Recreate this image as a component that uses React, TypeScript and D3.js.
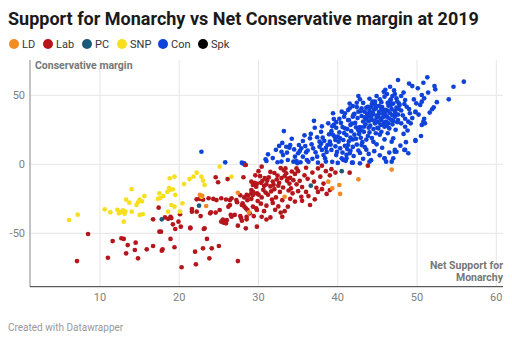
import React from "react";
import * as d3 from "d3";

const partyNames = ["LD", "Lab", "PC", "SNP", "Con", "Spk"];
const partyColors = ["#f28c22", "#b4161b", "#1d5a78", "#f7df1e", "#0f42d8", "#000000"];

const xTicks = [10, 20, 30, 40, 50, 60];
const yTicks = [50, 0, -50];

const ldPoints: [number, number][] = [
  [22.6, -22.2], [22.9, -22.8], [23.4, -30.2], [27.4, -20.6], [28.8, -34.8], [33.3, -23.5],
  [38.8, -12.6], [39.3, -17.4], [40.2, -15.0], [40.3, -21.5], [42.6, -10.9], [46.8, -3.8],
];

const pcPoints: [number, number][] = [
  [17.8, -39.9], [22.5, -30.0], [36.6, -15.5], [40.5, -5.0],
];

const spkPoints: [number, number][] = [];

const snpPoints: [number, number][] = [
  [6.1, -40.4], [7.2, -36.5], [14.0, -18.0], [13.3, -25.6], [13.7, -27.8], [10.6, -32.6],
  [11.3, -34.8], [12.2, -33.0], [12.4, -35.5], [12.6, -34.6], [12.9, -33.4], [13.1, -35.8],
  [13.2, -34.2], [13.0, -41.6], [14.0, -34.3], [14.6, -29.5], [14.8, -27.5], [15.0, -25.6],
  [15.3, -26.8], [15.6, -23.0], [15.0, -36.7], [15.4, -36.2], [17.3, -25.0], [17.6, -24.5],
  [17.5, -21.0], [18.0, -23.0], [18.5, -20.0], [18.7, -17.2], [18.8, -18.5], [19.2, -18.1],
  [19.5, -22.2], [18.8, -10.1], [19.4, -9.0], [19.0, -29.5], [19.4, -30.7], [18.6, -34.3],
  [20.4, -28.3], [20.6, -14.3], [21.3, -10.7], [21.8, -9.0], [22.2, -6.1], [22.8, -9.0],
  [23.0, -11.9], [23.2, -15.0], [25.1, -1.7], [26.6, -9.0], [20.1, -34.3], [22.8, -23.5],
];

const labPoints: [number, number][] = [
  [7.1, -70.1], [8.5, -50.5], [11.0, -67.7], [11.6, -55.6], [12.7, -53.6], [13.0, -54.1],
  [13.5, -58.5], [13.3, -64.5], [14.4, -62.1], [14.5, -56.8], [14.8, -68.1], [15.9, -61.6],
  [16.7, -59.2], [16.7, -39.9], [17.5, -48.8], [17.7, -48.8], [17.8, -62.6], [17.9, -61.6],
  [17.4, -31.4], [18.2, -38.5], [18.6, -39.5], [18.9, -38.0], [19.0, -39.0], [18.9, -54.1],
  [19.2, -43.5], [19.5, -46.9], [19.4, -60.1], [19.9, -41.6], [20.1, -36.2], [20.2, -45.2],
  [20.3, -74.6], [21.4, -46.4], [21.6, -34.3], [22.0, -63.3], [22.1, -72.5], [22.2, -25.4],
  [22.6, -25.0], [23.0, -25.6], [22.2, -34.3], [22.7, -37.5], [23.1, -46.9], [23.0, -60.9],
  [23.5, -54.1], [23.8, -68.1], [23.9, -35.5], [24.1, -60.9], [23.7, -24.6], [24.3, -25.1],
  [24.6, -9.4], [24.9, -13.0], [24.7, -25.9], [25.0, -59.2], [25.1, -33.1], [25.5, -40.0],
  [25.8, -41.5], [26.0, -40.5], [25.6, -42.3], [26.1, -10.7], [26.4, -29.5], [26.5, -36.7],
  [26.6, -24.6], [27.2, -25.9], [27.3, -27.5], [27.4, -70.1], [27.4, -44.5], [27.7, -37.5],
  [27.9, -40.9], [27.8, -39.0], [28.1, -9.4], [28.0, -28.3], [28.2, -30.5], [28.4, -31.9],
  [28.4, -46.4], [28.5, -22.2], [28.7, -22.8], [28.5, -38.0], [28.5, -39.9], [29.1, -12.6],
  [29.3, -15.0], [29.5, -13.5], [29.7, -16.2], [29.8, -14.0], [29.1, -21.0], [29.3, -19.9],
  [29.3, -30.7], [29.7, -31.9], [29.8, -45.2], [29.9, -26.6], [29.8, -33.1],
  [21.6, -32.4], [21.4, -45.9], [23.2, -46.4], [24.0, -34.8], [24.6, -35.0], [25.3, -24.6],
  [25.9, -25.5], [26.4, -25.9], [26.2, -30.7], [25.3, -41.6], [25.9, -42.8], [26.6, -38.0],
  [27.0, -36.7], [27.7, -22.5], [28.2, -24.0], [28.6, -26.0], [29.1, -25.0], [27.9, -29.5],
  [28.6, -33.0], [28.9, -35.5], [30.4, -1.7], [28.4, -0.5],
  [30.2, -8.6], [30.5, -12.0], [30.8, -10.0], [31.0, -14.5], [31.3, -9.5], [31.5, -16.0],
  [31.8, -12.5], [32.0, -18.0], [32.3, -11.0], [32.5, -15.5], [32.7, -20.0], [30.6, -18.5],
  [30.9, -20.5], [31.2, -22.0], [30.4, -24.0], [31.7, -25.5], [32.2, -24.0], [33.0, -26.0],
  [32.8, -2.7], [33.2, -4.5], [33.5, -6.5], [33.4, -3.0], [32.9, -10.0], [33.6, -12.0],
  [33.9, -14.0], [34.1, -17.5], [33.8, -19.0], [34.3, -21.0], [33.3, -8.5], [34.0, -9.8],
  [34.4, -11.5], [34.6, -7.0], [35.0, -5.0], [35.2, -12.0], [35.5, -16.5], [35.0, -19.5],
  [35.8, -8.0], [36.2, -10.5], [36.0, -20.0], [36.8, -6.0], [37.0, -12.5], [37.3, -17.0],
  [37.8, -9.0], [38.2, -14.0], [38.5, -5.0], [39.0, -8.0], [39.2, -3.5], [39.7, -6.0],
  [41.5, -6.1], [43.8, -1.0], [36.5, -29.5], [37.1, -25.4], [38.6, -21.5], [39.0, -18.7],
  [35.4, -23.5], [34.6, -27.0], [33.7, -30.7], [32.1, -33.0], [32.8, -35.0], [33.3, -34.0],
  [30.4, -38.0], [31.0, -40.0], [31.5, -38.5], [30.0, -22.0], [30.3, -28.5], [31.0, -30.0],
  [31.8, -28.0], [32.5, -30.5], [34.0, -25.0], [35.5, -26.5], [36.3, -23.0], [37.5, -20.0],
  [38.0, -18.0], [34.8, -3.0], [36.0, -2.5], [37.5, -3.0], [38.0, -1.0], [30.0, -5.0],
  [31.5, -5.5], [29.6, -8.0], [30.7, -34.0], [33.0, -38.0], [29.4, -37.5], [29.3, -22.2],
  [29.8, -21.0], [29.1, -18.7],
  [31.1, -11.8], [31.9, -14.8], [32.4, -8.2], [32.6, -13.4], [33.1, -16.8], [31.6, -19.6],
  [30.7, -15.6], [33.7, -10.3], [34.8, -14.5], [34.2, -5.2], [32.0, -6.3], [30.3, -13.4],
];

const conPoints: [number, number][] = [
  [22.8, 9.1], [25.8, 1.4], [27.9, 1.2], [28.2, 0.7], [28.0, 0.7], [28.3, -0.5],
  [30.9, 3.6], [31.2, 7.2], [31.0, 2.4], [32.6, 13.3], [32.9, 9.1], [33.1, 6.7], [33.2, 24.1],
  [32.4, 1.5], [31.8, 4.5], [32.2, 10.5], [32.9, 2.0], [33.0, 15.5],
  [33.5, 12.7], [33.9, 12.0], [34.0, 14.0], [33.7, 3.1], [34.4, 1.9], [34.6, 5.5], [35.0, 8.0],
  [35.2, 9.6], [35.1, 14.0], [35.6, 16.9], [35.4, 11.6], [35.6, 5.5], [36.0, 8.7], [36.1, 3.1],
  [34.8, 2.4], [34.2, 18.5], [35.8, 21.0], [34.9, 0.8], [35.3, 1.5], [33.6, 8.5], [34.5, 10.8],
  [35.9, 13.2],
  [36.5, 18.8], [36.7, 14.5], [36.9, 11.6], [37.1, 26.5], [37.2, 8.7], [37.4, 5.5], [37.7, 12.8],
  [37.7, 16.4], [38.0, 10.4], [38.1, 19.3], [38.2, 6.7], [38.4, 4.3], [38.7, 14.0], [38.8, 29.7],
  [38.9, 21.7], [36.3, 1.8], [36.8, 4.0], [37.5, 1.2], [38.5, 2.0], [37.9, 23.5], [36.6, 22.0],
  [38.3, 17.0], [37.0, 31.5], [36.2, 10.0], [38.6, 9.0], [38.0, 27.5],
  [39.0, 16.4], [39.2, 10.4], [39.4, 37.0], [39.5, 32.8], [39.6, 20.0], [39.8, 26.5], [39.8, 6.7],
  [40.1, 16.4], [40.2, 23.2], [40.3, 11.6], [40.5, 4.3], [40.7, 17.6], [40.9, 26.1], [41.1, 21.2],
  [41.3, 14.0], [41.5, 8.0], [41.3, 39.3], [39.3, 1.8], [40.0, 1.0], [41.0, 2.5], [41.8, 1.2],
  [39.7, 13.0], [40.4, 30.0], [41.6, 28.5], [41.9, 18.0], [39.2, 24.0], [40.8, 34.5], [41.4, 32.0],
  [40.0, 20.0], [41.2, 11.0], [39.9, 9.0], [41.7, 24.0], [40.6, 8.5], [39.5, 28.5], [42.0, 36.0],
  [47.6, 61.1], [51.3, 63.0], [50.8, 59.1], [49.4, 56.7], [50.1, 55.1], [46.6, 56.2], [52.2, 56.7],
  [52.3, 54.3], [54.6, 56.2], [55.9, 59.9], [54.0, 47.1], [52.1, 41.3], [51.9, 39.9], [50.6, 50.2],
  [50.9, 47.8], [50.6, 45.4], [49.9, 44.2], [50.4, 43.0], [49.8, 38.1], [49.1, 37.0], [48.7, 41.7],
  [48.5, 46.6], [48.0, 49.5], [47.7, 44.2], [47.4, 47.8], [47.2, 50.9], [46.9, 49.5], [46.6, 46.1],
  [46.2, 50.9], [45.9, 49.0], [45.3, 47.1], [44.7, 45.4], [44.3, 43.7], [43.8, 41.7], [42.8, 47.1],
  [42.4, 44.6], [41.9, 42.2], [41.5, 40.6], [40.9, 37.0], [40.5, 38.1], [41.3, 32.1], [41.9, 34.5],
  [42.6, 38.1], [43.0, 40.6], [43.4, 38.1], [43.8, 34.5], [44.3, 32.1], [44.7, 29.7], [45.1, 26.1],
  [45.5, 23.6], [45.9, 27.2], [46.4, 29.7], [46.8, 32.1], [47.2, 34.5], [47.6, 32.1], [48.0, 29.7],
  [48.5, 27.2], [48.9, 30.9], [49.2, 29.7], [50.8, 30.9], [50.6, 28.5], [51.0, 29.7], [49.8, 17.6],
  [47.0, 18.8], [46.8, 16.4], [47.2, 10.4], [47.4, 9.1], [48.5, 10.4], [48.9, 8.0], [45.9, 4.3],
  [47.0, 4.3], [46.8, 1.9], [44.0, 1.9], [42.8, 0.7], [41.9, 1.2], [41.1, 4.3], [40.7, 3.1],
  [49.8, 37.7], [49.8, 16.9], [48.4, 10.4], [47.2, 9.1], [45.9, 4.3], [46.1, 1.9],
  [42.2, 30.0], [42.5, 33.5], [42.8, 27.0], [43.0, 35.0], [43.2, 31.0], [43.5, 29.0], [43.7, 36.5],
  [43.9, 26.5], [44.0, 39.0], [44.2, 34.0], [44.4, 37.5], [44.6, 31.5], [44.8, 40.5], [45.0, 35.5],
  [45.2, 38.0], [45.4, 33.0], [45.6, 41.5], [45.8, 36.0], [46.0, 39.5], [46.2, 34.5], [46.4, 42.5],
  [46.6, 37.0], [46.8, 40.0], [47.0, 44.0], [47.2, 38.5], [47.4, 41.0], [47.6, 36.0], [47.8, 43.0],
  [48.0, 39.0], [48.2, 35.5], [44.1, 28.0], [44.5, 25.5], [45.1, 30.5], [45.7, 28.5], [46.1, 31.0],
  [46.5, 26.0], [43.3, 23.5], [43.8, 20.5], [42.7, 22.0], [42.3, 18.5], [43.1, 16.0], [44.3, 19.0],
  [45.3, 21.5], [46.3, 22.5], [47.3, 25.0], [44.7, 43.0], [45.5, 45.0], [46.7, 47.0], [43.6, 41.0],
  [42.9, 38.5], [42.1, 36.5], [42.4, 41.5], [41.8, 29.5], [41.2, 25.5], [40.6, 27.0], [40.2, 33.0],
  [39.8, 30.5], [39.3, 27.5], [43.4, 12.5], [44.9, 14.5], [45.9, 18.0], [42.6, 10.0], [43.9, 7.5],
  [44.6, 9.5], [45.6, 12.0], [43.2, 4.0], [42.0, 6.0], [44.2, 3.0], [45.3, 6.5], [46.5, 8.5],
  [48.3, 22.0], [48.8, 24.5], [49.4, 33.5], [49.0, 40.0], [49.6, 47.0], [48.3, 52.0], [47.1, 53.5],
  [45.8, 52.5], [44.9, 49.5], [44.0, 47.5], [43.2, 44.5], [42.6, 49.5], [41.5, 44.0], [50.2, 36.0],
  [50.9, 33.0], [51.6, 37.5], [52.5, 45.0], [51.4, 52.0], [49.0, 58.5], [46.0, 54.0], [48.6, 16.0],
  [50.5, 20.5], [47.9, 13.5], [44.8, 22.5], [46.9, 29.0], [45.0, 26.5], [43.6, 32.5], [47.5, 30.5],
  [48.5, 33.0], [46.3, 44.5], [44.4, 45.5], [45.5, 40.0], [43.0, 24.5],
  [44.5, 36.2], [44.9, 33.8], [45.3, 36.9], [45.7, 34.1], [46.0, 36.8], [46.3, 39.0], [45.2, 42.3],
  [44.6, 39.8], [46.5, 33.2], [46.9, 35.6], [45.9, 30.4], [45.4, 28.4], [44.8, 30.9], [46.7, 42.9],
  [47.3, 37.0], [47.7, 40.1], [45.1, 34.6], [45.8, 38.4], [44.2, 41.6], [43.4, 34.0], [43.9, 31.2],
  [46.2, 27.9], [47.0, 31.4], [44.0, 36.3], [45.5, 31.8], [46.6, 44.3], [47.5, 45.7], [48.4, 43.7],
  [42.6, 24.7], [42.1, 21.5], [41.6, 19.4], [42.9, 19.2], [43.6, 17.9], [42.4, 14.3], [41.9, 12.6],
  [43.0, 13.9], [42.3, 26.8], [41.4, 16.7], [40.8, 22.6], [40.3, 18.8], [39.7, 17.6], [40.9, 13.4],
  [41.6, 9.8], [42.8, 8.2], [41.1, 6.9], [43.6, 10.6], [44.5, 16.3], [44.0, 23.1], [43.3, 27.2],
  [39.1, 14.3], [38.5, 11.9], [37.9, 14.9], [37.4, 19.6], [39.4, 21.4],
];

const partyPoints = [ldPoints, labPoints, pcPoints, snpPoints, conPoints, spkPoints];
const drawOrder = [4, 1, 3, 0, 2, 5];

const W = 512;
const H = 347;
const plotLeft = 30;
const plotRight = 503;
const plotTop = 60;
const plotBottom = 286.7;

const x = d3.scaleLinear().domain([0, 60]).range([20.7, 496.3]);
const y = d3.scaleLinear().domain([-50, 50]).range([233.3, 95.3]);

const FONT = "Roboto, 'Noto Sans', sans-serif";

export default function App() {
  const legendX = [14, 48, 87, 122, 163, 203];
  return (
    <svg width={W} height={H} style={{ position: "absolute", left: 0, top: 0, background: "#fff" }} fontFamily={FONT}>
      <rect x={0} y={0} width={W} height={H} fill="#fff" />
      <text x={8} y={24.5} fontSize={18} fontWeight={700} fill="#1a1a1a">
        Support for Monarchy vs Net Conservative margin at 2019
      </text>
      {partyNames.map((p, i) => (
        <g key={p}>
          <circle cx={legendX[i]} cy={44} r={5} fill={partyColors[i]} />
          <text x={legendX[i] + 8} y={47.8} fontSize={11} fill="#333">{p}</text>
        </g>
      ))}
      {xTicks.map((t) => (
        <line key={"vx" + t} x1={x(t)} x2={x(t)} y1={plotTop} y2={plotBottom} stroke="#e6e6e6" strokeWidth={1} />
      ))}
      {yTicks.map((t) => (
        <line key={"hy" + t} x1={plotLeft} x2={plotRight} y1={y(t)} y2={y(t)} stroke="#e6e6e6" strokeWidth={1} />
      ))}
      <line x1={plotLeft} x2={plotLeft} y1={plotTop} y2={plotBottom} stroke="#888" strokeWidth={1} />
      <line x1={plotLeft} x2={plotRight} y1={plotBottom} y2={plotBottom} stroke="#333" strokeWidth={1} />
      {xTicks.map((t) => (
        <text key={"xt" + t} x={x(t)} y={301} fontSize={11} fill="#808080" textAnchor="middle">{t}</text>
      ))}
      {yTicks.map((t) => (
        <text key={"yt" + t} x={25} y={y(t) + 4} fontSize={11} fill="#808080" textAnchor="end">{t}</text>
      ))}
      <text x={35} y={69} fontSize={10.5} fontWeight={700} fill="#777">Conservative margin</text>
      <text x={plotRight} y={269} fontSize={10.5} fontWeight={700} fill="#777" textAnchor="end">Net Support for</text>
      <text x={plotRight} y={281} fontSize={10.5} fontWeight={700} fill="#777" textAnchor="end">Monarchy</text>
      {drawOrder.map((pi) => (
        <g key={"pts" + pi}>
          {partyPoints[pi].map((d, j) => (
            <circle key={j} cx={x(d[0])} cy={y(d[1])} r={2.35} fill={partyColors[pi]} />
          ))}
        </g>
      ))}
      <text x={8} y={331} fontSize={10} fill="#999">Created with Datawrapper</text>
    </svg>
  );
}
